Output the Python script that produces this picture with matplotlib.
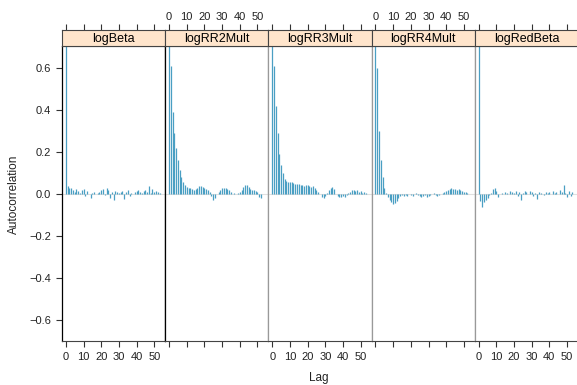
import numpy as np
import matplotlib
matplotlib.use("Agg")
import matplotlib.pyplot as plt

plt.rcParams["font.family"] = ["Liberation Sans", "DejaVu Sans"]

panels = ["logBeta", "logRR2Mult", "logRR3Mult", "logRR4Mult", "logRedBeta"]
lags = list(range(54))

logBeta = [1.0, 0.04, 0.03, 0.028, 0.02, 0.01, 0.025, 0.015, 0.005, 0.02,
           0.025, -0.01, 0.015, 0.0, -0.02, 0.005, 0.01, 0.0, 0.005, 0.01,
           0.02, 0.025, -0.005, 0.03, 0.02, -0.02, 0.01, -0.03, 0.015, 0.01,
           0.005, 0.01, 0.015, -0.025, 0.01, 0.02, -0.01, 0.005, 0.0, 0.01,
           0.015, 0.02, 0.01, 0.005, 0.015, 0.02, 0.01, 0.04, 0.005, 0.025,
           0.01, 0.015, 0.01, 0.005]
logRR2Mult = [1.0, 0.61, 0.39, 0.29, 0.22, 0.16, 0.115, 0.08, 0.055, 0.045,
              0.035, 0.03, 0.03, 0.025, 0.02, 0.025, 0.03, 0.04, 0.04, 0.035,
              0.03, 0.025, 0.02, 0.01, -0.01, -0.03, -0.02, 0.0, 0.01, 0.02,
              0.03, 0.03, 0.03, 0.025, 0.02, 0.01, 0.0, 0.005, 0.0, 0.005,
              0.01, 0.02, 0.035, 0.045, 0.045, 0.035, 0.025, 0.02, 0.02, 0.015,
              0.01, -0.015, -0.02, 0.0]
logRR3Mult = [1.0, 0.61, 0.42, 0.29, 0.19, 0.14, 0.10, 0.07, 0.06, 0.058,
              0.055, 0.055, 0.052, 0.05, 0.05, 0.048, 0.045, 0.045, 0.04, 0.042,
              0.045, 0.04, 0.035, 0.04, 0.03, 0.02, 0.01, 0.0, -0.015, -0.02,
              -0.01, 0.005, 0.02, 0.03, 0.035, 0.025, 0.0, -0.01, -0.015, -0.015,
              -0.01, -0.015, -0.005, 0.005, 0.01, 0.02, 0.02, 0.015, 0.02, 0.01,
              0.015, 0.005, 0.01, 0.005]
logRR4Mult = [1.0, 0.60, 0.30, 0.16, 0.08, 0.03, 0.005, -0.015, -0.03, -0.04,
              -0.047, -0.045, -0.035, -0.02, -0.01, -0.005, -0.01, -0.005, -0.01, 0.0,
              -0.005, -0.01, 0.0, 0.005, -0.005, -0.01, -0.015, -0.01, -0.005, -0.015,
              -0.01, -0.005, 0.0, 0.005, -0.005, -0.01, -0.005, 0.0, 0.005, 0.01,
              0.015, 0.02, 0.025, 0.03, 0.025, 0.025, 0.02, 0.025, 0.02, 0.015,
              0.01, 0.01, 0.005, 0.0]
logRedBeta = [1.0, -0.035, -0.06, -0.04, -0.03, -0.02, -0.005, 0.005, 0.025, 0.03,
              0.015, -0.015, 0.0, 0.005, 0.0, 0.01, 0.005, 0.0, 0.015, 0.01,
              0.005, 0.015, -0.01, 0.01, -0.03, 0.005, 0.015, 0.01, 0.0, 0.015,
              0.01, -0.01, 0.005, -0.025, 0.01, 0.005, 0.0, -0.005, 0.01, 0.005,
              0.01, 0.0, 0.015, 0.005, 0.01, 0.0, 0.02, 0.01, 0.045, 0.005,
              -0.015, 0.015, -0.01, 0.01]
series = [logBeta, logRR2Mult, logRR3Mult, logRR4Mult, logRedBeta]

xticks = [0, 10, 20, 30, 40, 50]
yticks = [-0.6, -0.4, -0.2, 0.0, 0.2, 0.4, 0.6]
ytick_labels = ["\u22120.6", "\u22120.4", "\u22120.2", "0.0", "0.2", "0.4", "0.6"]

W, H = 577, 385
fig = plt.figure(figsize=(W / 100, H / 100), dpi=100)

left0 = 62
pw = 103.2
ptop, pbot = 46, 341
stop = 30
txt = "#222222"
bar_col = "#4a9fc3"
border_cols = ["black", "black", "#999999", "#999999", "#999999"]

for i, (name, vals) in enumerate(zip(panels, series)):
    x0 = left0 + i * pw
    ax = fig.add_axes([x0 / W, (H - pbot) / H, pw / W, (pbot - ptop) / H])
    ax.axhline(0, color="#e0e0e0", lw=0.8, zorder=1)
    ax.vlines(lags, 0, vals, color=bar_col, lw=0.9, zorder=2)
    ax.set_xlim(-2.2, 56.2)
    ax.set_ylim(-0.70, 0.705)
    ax.set_xticks(xticks)
    ax.tick_params(axis="x", direction="out", length=4, width=0.8, color="#333333",
                   labelsize=8, labelcolor=txt, pad=4,
                   labelbottom=(i % 2 == 0), top=False)
    if i == 0:
        ax.set_yticks(yticks)
        ax.set_yticklabels(ytick_labels)
        ax.tick_params(axis="y", direction="out", length=4, width=0.8, color="#333333",
                       labelsize=8, labelcolor=txt, pad=4)
    else:
        ax.set_yticks([])
    for s in ["top", "bottom"]:
        ax.spines[s].set_color("#444444")
        ax.spines[s].set_linewidth(0.8)
    ax.spines["left"].set_color(border_cols[i])
    ax.spines["right"].set_color(border_cols[i + 1] if i + 1 < 5 else "#999999")
    ax.spines["left"].set_linewidth(0.9)
    ax.spines["right"].set_linewidth(0.9)

    sx = fig.add_axes([x0 / W, (H - ptop) / H, pw / W, (ptop - stop) / H])
    sx.set_facecolor("#ffe5cc")
    sx.set_xlim(-2.2, 56.2)
    sx.set_ylim(0, 1)
    sx.set_yticks([])
    sx.set_xticks(xticks)
    sx.tick_params(axis="x", direction="out", length=4, width=0.8, color="#333333",
                   labelsize=8, labelcolor=txt, pad=2,
                   bottom=False, labelbottom=False, top=True, labeltop=(i % 2 == 1))
    for s in sx.spines.values():
        s.set_color("#444444")
        s.set_linewidth(0.8)
    sx.text(0.5, 0.45, name, transform=sx.transAxes, ha="center", va="center",
            fontsize=9, color="black")

fig.text(14 / W, 1 - 194 / H, "Autocorrelation", rotation=90, ha="center", va="center",
         fontsize=8.5, color=txt)
fig.text(319 / W, 1 - 378 / H, "Lag", ha="center", va="center", fontsize=8.5, color=txt)

fig.savefig("out.png", dpi=100)
